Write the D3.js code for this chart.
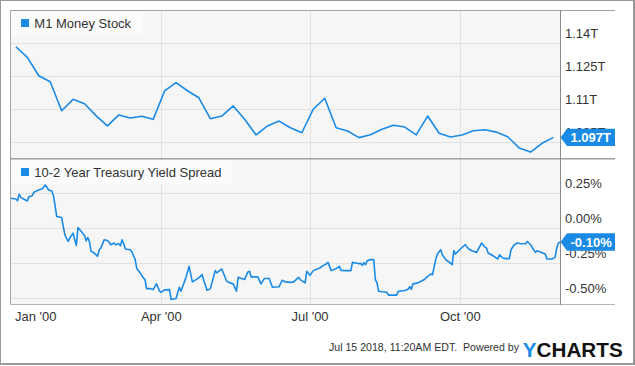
<!DOCTYPE html>
<html><head><meta charset="utf-8">
<script src="https://cdn.jsdelivr.net/npm/d3@7"></script>
<style>
html,body{margin:0;padding:0;background:#fff;}
svg{display:block;font-family:"Liberation Sans",Arial,Helvetica,sans-serif;}
</style></head>
<body><svg id="chart" width="635" height="366"></svg>
<script>
// ---------- DATA ----------
const m1Title = "M1 Money Stock";
const spreadTitle = "10-2 Year Treasury Yield Spread";

const m1Dates = ["2000-01-03","2000-01-10","2000-01-17","2000-01-24","2000-01-31",
  "2000-02-07","2000-02-14","2000-02-21","2000-02-28",
  "2000-03-06","2000-03-13","2000-03-20","2000-03-27",
  "2000-04-03","2000-04-10","2000-04-17","2000-04-24",
  "2000-05-01","2000-05-08","2000-05-15","2000-05-22","2000-05-29",
  "2000-06-05","2000-06-12","2000-06-19","2000-06-26",
  "2000-07-03","2000-07-10","2000-07-17","2000-07-24","2000-07-31",
  "2000-08-07","2000-08-14","2000-08-21","2000-08-28",
  "2000-09-04","2000-09-11","2000-09-18","2000-09-25",
  "2000-10-02","2000-10-09","2000-10-16","2000-10-23","2000-10-30",
  "2000-11-06","2000-11-13","2000-11-20","2000-11-27"];
// trillions of dollars
const m1Values = [1.1383,1.1335,1.1251,1.1224,1.1092,
  1.1144,1.1124,1.1070,1.1023,
  1.1073,1.1059,1.1067,1.1053,
  1.1182,1.1220,1.1183,1.1151,
  1.1056,1.1068,1.1114,1.1053,1.0982,
  1.1023,1.1045,1.1015,1.0992,
  1.1099,1.1149,1.1015,1.1000,1.0970,
  1.0983,1.1008,1.1026,1.1018,
  1.0982,1.1068,1.0990,1.0973,
  1.0982,1.1001,1.1006,1.0995,1.0974,
  1.0923,1.0904,1.0944,1.0971];

const spreadDates = ["1999-12-31","2000-01-03","2000-01-04","2000-01-05","2000-01-06","2000-01-08","2000-01-10","2000-01-11","2000-01-13","2000-01-14",
 "2000-01-16","2000-01-18","2000-01-19","2000-01-21","2000-01-22","2000-01-23","2000-01-25","2000-01-26","2000-01-28","2000-01-31",
 "2000-02-01","2000-02-02","2000-02-04","2000-02-05","2000-02-07","2000-02-08","2000-02-09","2000-02-10","2000-02-12","2000-02-14",
 "2000-02-15","2000-02-16","2000-02-17","2000-02-18","2000-02-20","2000-02-22","2000-02-23","2000-02-24","2000-02-26","2000-02-28",
 "2000-02-29","2000-03-01","2000-03-03","2000-03-04","2000-03-06","2000-03-07","2000-03-08","2000-03-09","2000-03-10","2000-03-13",
 "2000-03-14","2000-03-16","2000-03-17","2000-03-19","2000-03-21","2000-03-22","2000-03-23","2000-03-25","2000-03-27","2000-03-29",
 "2000-03-31","2000-04-01","2000-04-03","2000-04-06","2000-04-07","2000-04-10","2000-04-12","2000-04-13","2000-04-16","2000-04-18",
 "2000-04-20","2000-04-24","2000-04-26","2000-04-27","2000-04-29","2000-05-01","2000-05-04","2000-05-05","2000-05-08","2000-05-11",
 "2000-05-13","2000-05-15","2000-05-17","2000-05-18","2000-05-22","2000-05-24","2000-05-25","2000-05-26","2000-05-30","2000-06-01",
 "2000-06-03","2000-06-06","2000-06-08","2000-06-12","2000-06-14","2000-06-16","2000-06-19","2000-06-21","2000-06-24","2000-06-25",
 "2000-06-28","2000-06-29","2000-07-01","2000-07-03","2000-07-07","2000-07-09","2000-07-11","2000-07-12","2000-07-14","2000-07-17",
 "2000-07-19","2000-07-20","2000-07-23","2000-07-26","2000-07-27","2000-07-29","2000-07-31","2000-08-01","2000-08-02","2000-08-03",
 "2000-08-04","2000-08-05","2000-08-07","2000-08-09","2000-08-10","2000-08-11","2000-08-12","2000-08-14","2000-08-17","2000-08-18",
 "2000-08-23","2000-08-24","2000-08-28","2000-08-30","2000-08-31","2000-09-01","2000-09-02","2000-09-05","2000-09-07","2000-09-09",
 "2000-09-11","2000-09-13","2000-09-14","2000-09-16","2000-09-17","2000-09-19","2000-09-20","2000-09-22","2000-09-24","2000-09-26",
 "2000-09-27","2000-09-28","2000-09-30","2000-10-02","2000-10-04","2000-10-06","2000-10-08","2000-10-11","2000-10-14","2000-10-16",
 "2000-10-17","2000-10-18","2000-10-20","2000-10-23","2000-10-24","2000-10-25","2000-10-27","2000-10-29","2000-10-31","2000-11-01",
 "2000-11-03","2000-11-05","2000-11-07","2000-11-10","2000-11-11","2000-11-13","2000-11-14","2000-11-16","2000-11-17","2000-11-19",
 "2000-11-22","2000-11-23","2000-11-26","2000-11-28","2000-11-29","2000-11-30","2000-12-01"];
// percent
const spreadValues = [0.214,0.209,0.197,0.243,0.221,0.207,0.195,0.226,0.233,0.257,
 0.269,0.279,0.281,0.309,0.293,0.274,0.266,0.233,0.083,0.076,
 0.011,-0.048,-0.096,-0.071,-0.036,-0.084,-0.124,0.004,-0.024,-0.053,
 -0.091,-0.067,-0.096,-0.167,-0.179,-0.203,-0.155,-0.143,-0.084,-0.089,
 -0.100,-0.119,-0.107,-0.119,-0.112,-0.126,-0.084,-0.112,-0.150,-0.155,
 -0.171,-0.226,-0.291,-0.321,-0.357,-0.369,-0.434,-0.434,-0.441,-0.400,
 -0.453,-0.460,-0.443,-0.441,-0.512,-0.505,-0.424,-0.453,-0.357,-0.274,
 -0.386,-0.357,-0.334,-0.376,-0.446,-0.436,-0.305,-0.321,-0.293,-0.381,
 -0.393,-0.400,-0.453,-0.353,-0.369,-0.314,-0.310,-0.350,-0.350,-0.400,
 -0.362,-0.362,-0.424,-0.421,-0.374,-0.386,-0.389,-0.386,-0.353,-0.369,
 -0.393,-0.310,-0.339,-0.305,-0.286,-0.269,-0.257,-0.246,-0.305,-0.291,
 -0.274,-0.303,-0.305,-0.305,-0.246,-0.250,-0.255,-0.253,-0.267,-0.248,
 -0.262,-0.234,-0.226,-0.226,-0.369,-0.393,-0.453,-0.457,-0.460,-0.481,
 -0.481,-0.453,-0.448,-0.439,-0.421,-0.439,-0.400,-0.393,-0.381,-0.369,
 -0.346,-0.329,-0.334,-0.221,-0.186,-0.155,-0.191,-0.226,-0.243,-0.262,
 -0.162,-0.186,-0.162,-0.139,-0.119,-0.148,-0.162,-0.174,-0.107,-0.136,
 -0.143,-0.179,-0.191,-0.214,-0.221,-0.191,-0.214,-0.219,-0.219,-0.155,
 -0.119,-0.107,-0.112,-0.112,-0.096,-0.119,-0.139,-0.174,-0.162,-0.171,
 -0.186,-0.221,-0.221,-0.210,-0.143,-0.107,-0.100];

const m1Ticks = [1.095, 1.11, 1.125, 1.14];
const spreadTicks = [-0.5, -0.25, 0, 0.25];
const xTickDates = ["2000-01-01","2000-04-01","2000-07-01","2000-10-01"];
const xTickLabels = ["Jan '00","Apr '00","Jul '00","Oct '00"];
const footerText = "Jul 15 2018, 11:20AM EDT.  Powered by";

// ---------- CHART ----------
const parse = d3.timeParse("%Y-%m-%d");
const loc = d3.formatLocale({decimal:".",thousands:",",grouping:[3],currency:["$",""],minus:"-"});
const fmtT = v => loc.format(v === 1.11 || v === 1.14 ? ".2f" : ".3f")(v) + "T";
const fmtP = v => loc.format(".2f")(v) + "%";

const BLUE = "#1a8ae5";
const svg = d3.select("#chart");
const L = 11, R = 560, AXR = 615;
const top1 = 10, bot1 = 158.5, top2 = 159, bot2 = 304;

const m1 = m1Dates.map((d,i)=>({date:parse(d), v:m1Values[i]}));
const sp = spreadDates.map((d,i)=>({date:parse(d), v:spreadValues[i]}));

const x = d3.scaleTime().domain([parse("1999-12-31"), parse("2000-12-01")]).range([L, R]);
const y1 = d3.scaleLinear().domain([1.095, 1.14]).range([142, 43]);
const y2 = d3.scaleLinear().domain([-0.5, 0.25]).range([297.8, 193.3]);

// outer frame
svg.append("rect").attr("x",0).attr("y",0).attr("width",634).attr("height",364)
  .attr("fill","#fff").attr("stroke","#9a9a9a").attr("stroke-width",2);

// panel backgrounds
svg.append("rect").attr("x",L).attr("y",top1).attr("width",R-L).attr("height",bot2-top1).attr("fill","#f6f6f6");

// horizontal grid
svg.append("g").selectAll("line").data(m1Ticks).join("line")
  .attr("x1",L).attr("x2",R).attr("y1",d=>Math.round(y1(d))+0.5).attr("y2",d=>Math.round(y1(d))+0.5)
  .attr("stroke","#e2e2e2");
svg.append("g").selectAll("line").data(spreadTicks).join("line")
  .attr("x1",L).attr("x2",R).attr("y1",d=>Math.round(y2(d))+0.5).attr("y2",d=>Math.round(y2(d))+0.5)
  .attr("stroke","#e2e2e2");
// vertical grid
svg.append("g").selectAll("line").data(xTickDates.slice(1)).join("line")
  .attr("x1",d=>Math.round(x(parse(d)))+0.5).attr("x2",d=>Math.round(x(parse(d)))+0.5)
  .attr("y1",top1).attr("y2",bot2).attr("stroke","#e2e2e2");

// legends
function legend(yTop, w, label){
  const g = svg.append("g");
  g.append("rect").attr("x",L).attr("y",yTop).attr("width",w).attr("height",24).attr("fill","#fbfbfb");
  g.append("rect").attr("x",21).attr("y",yTop+8).attr("width",8).attr("height",8).attr("fill",BLUE);
  g.append("text").attr("x",34.3).attr("y",yTop+16.5).attr("font-size",13).attr("fill","#333").text(label);
}
legend(11, 132, m1Title);
legend(160, 221, spreadTitle);

// clip paths
const defs = svg.append("defs");
defs.append("clipPath").attr("id","c1").append("rect").attr("x",L).attr("y",top1).attr("width",R-L).attr("height",bot1-top1);
defs.append("clipPath").attr("id","c2").append("rect").attr("x",L).attr("y",top2).attr("width",R-L+1).attr("height",bot2-top2);

// lines
svg.append("path").datum(m1).attr("clip-path","url(#c1)")
  .attr("d", d3.line().x(d=>x(d.date)).y(d=>y1(d.v)))
  .attr("fill","none").attr("stroke",BLUE).attr("stroke-width",1.6).attr("stroke-linejoin","round");
svg.append("path").datum(sp).attr("clip-path","url(#c2)")
  .attr("d", d3.line().x(d=>x(d.date)).y(d=>y2(d.v)))
  .attr("fill","none").attr("stroke",BLUE).attr("stroke-width",1.6).attr("stroke-linejoin","round");

// frame lines
const fl = (x1,y1_,x2,y2_,c,w)=>svg.append("line").attr("x1",x1).attr("y1",y1_).attr("x2",x2).attr("y2",y2_).attr("stroke",c).attr("stroke-width",w||1);
fl(10, 10.5, AXR, 10.5, "#a0a0a0");
fl(10.5, 10, 10.5, 305, "#a8a8a8");
fl(10, 158.7, AXR, 158.7, "#a0a0a0", 1.6);
fl(10, 304.5, AXR, 304.5, "#b5b5b5");
fl(560.5, 10, 560.5, 305, "#8a8a8a");

// right axis labels
svg.append("g").selectAll("text").data(m1Ticks).join("text")
  .attr("x",565).attr("y",d=>y1(d)-5.5).attr("font-size",13).attr("fill","#333").text(fmtT);
svg.append("g").selectAll("text").data(spreadTicks).join("text")
  .attr("x",565).attr("y",d=>y2(d)-5).attr("font-size",13).attr("fill","#333").text(fmtP);

// x labels
svg.append("g").selectAll("text").data(xTickDates).join("text")
  .attr("x",(d,i)=> i===0 ? 15 : x(parse(d)))
  .attr("text-anchor",(d,i)=> i===0 ? "start" : "middle")
  .attr("y",321).attr("font-size",13).attr("fill","#333")
  .text((d,i)=>xTickLabels[i]);

// value flags
function flag(yv, label){
  const g = svg.append("g");
  const h = 8.7;
  g.append("path").attr("d",`M${R+0.5},${yv} L${R+7},${yv-h} L${AXR},${yv-h} L${AXR},${yv+h} L${R+7},${yv+h} Z`).attr("fill",BLUE);
  g.append("text").attr("x",570.5).attr("y",yv+4.6).attr("font-size",13).attr("font-weight","bold").attr("fill","#fff").text(label);
}
const lastM1 = m1[m1.length-1], lastSp = sp[sp.length-1];
flag(y1(lastM1.v), loc.format(".3f")(lastM1.v) + "T");
flag(y2(lastSp.v), fmtP(lastSp.v));

// footer
svg.append("text").attr("x",519).attr("y",351).attr("text-anchor","end")
  .attr("font-size",10.6).attr("fill","#333").style("white-space","pre").text(footerText);
const logo = svg.append("text").attr("x",522.7).attr("y",356.6).attr("font-size",19.5).attr("font-weight","bold")
  .attr("textLength",100).attr("lengthAdjust","spacingAndGlyphs");
logo.append("tspan").attr("fill",BLUE).text("Y");
logo.append("tspan").attr("fill","#111").text("CHARTS");
</script>
</body></html>
